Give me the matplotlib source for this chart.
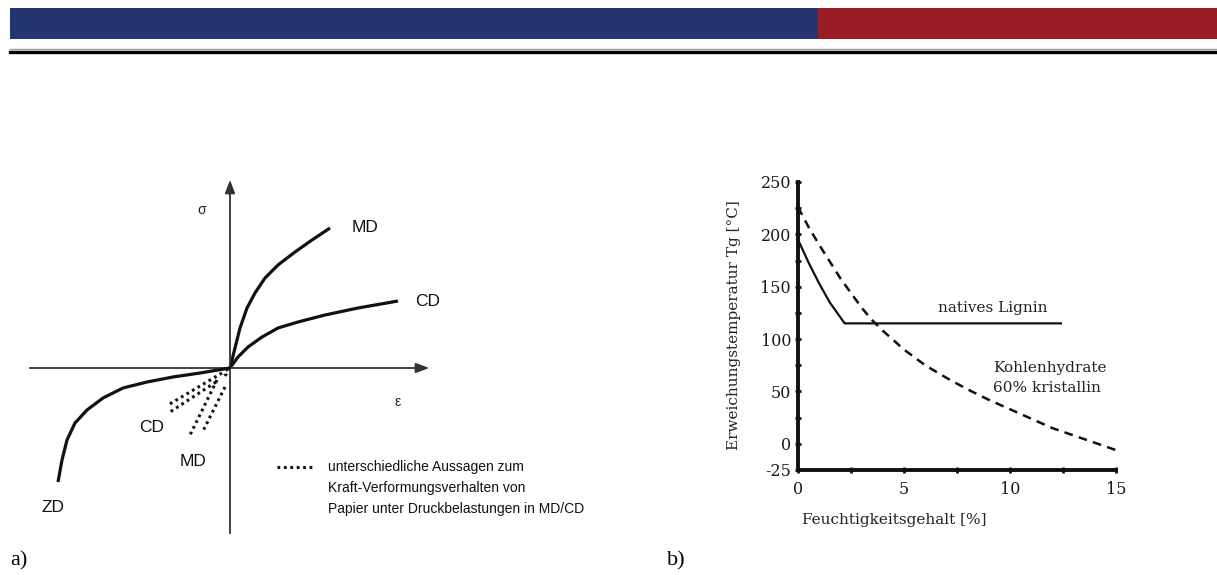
import matplotlib
matplotlib.use("Agg")
import matplotlib.pyplot as plt
from matplotlib.patches import Rectangle
from matplotlib.lines import Line2D

plt.rcParams["axes.unicode_minus"] = False

W, H = 1217, 575

# --- a) schematic stress/strain curves (arbitrary units, origin at 0,0) ---
md_x = [0, 5, 10, 17, 25, 35, 48, 65, 82, 100]
md_y = [0, 20, 40, 60, 75, 90, 103, 116, 128, 140]
cd_x = [0, 8, 18, 32, 48, 68, 95, 128, 168]
cd_y = [0, 11, 21, 31, 40, 46, 53, 60, 67]
zd_x = [0, -30, -57, -83, -107, -127, -143, -155, -163, -168, -172]
zd_y = [0, -5, -9, -14, -20, -30, -42, -55, -72, -92, -114]
# dotted compression lines (MD/CD)
dot_cd = [([-8, -62], [-5, -37]), ([-14, -60], [-14, -44])]
dot_md = [([-13, -40], [-12, -67]), ([-5, -27], [-19, -63])]
dot_curl = ([-2, -5, -5, -3, 0], [-1, -3, -6, -8, -9])

# --- b) softening temperature vs. moisture content ---
lignin_x = [0, 0.5, 1.0, 1.5, 2.2, 12.4]
lignin_y = [195, 173, 153, 135, 115, 115]
carb_x = [0, 0.5, 1, 1.5, 2, 2.5, 3, 3.5, 4, 5, 6, 7, 8, 9, 10, 11, 12, 13, 14, 15]
carb_y = [226, 207, 190, 174, 158, 144, 130, 118, 108, 90, 75, 63, 52, 42, 33, 24, 15, 8, 1, -6]
x_ticks = [0, 5, 10, 15]
y_ticks = [-25, 0, 50, 100, 150, 200, 250]


def fx(px):
    return px / W


def fy(py):
    return 1 - py / H


fig = plt.figure(figsize=(W / 100, H / 100), dpi=100)

# header band and rule
fig.add_artist(Rectangle((fx(10), fy(39)), fx(818) - fx(10), fy(8) - fy(39),
                         transform=fig.transFigure, color="#263571", lw=0))
fig.add_artist(Rectangle((fx(818), fy(39)), 1 - fx(818), fy(8) - fy(39),
                         transform=fig.transFigure, color="#9b1c26", lw=0))
fig.add_artist(Line2D([fx(10), 1], [fy(49), fy(49)], transform=fig.transFigure,
                      color="#999999", lw=1))
fig.add_artist(Line2D([fx(10), 1], [fy(51.5), fy(51.5)], transform=fig.transFigure,
                      color="black", lw=2.4))

# ---------------- panel a ----------------
ox, oy = 230, 368
x0, x1, y0, y1 = 20, 440, 170, 545
axa = fig.add_axes([fx(x0), fy(y1), fx(x1) - fx(x0), fy(y0) - fy(y1)])
axa.set_xlim(x0 - ox, x1 - ox)
axa.set_ylim(oy - y1, oy - y0)
axa.axis("off")

ax_col = "#333333"
axa.plot([-200, 0], [0, 0], color=ax_col, lw=1.3)
axa.plot([0, 0], [-165, 0], color=ax_col, lw=1.3)
axa.annotate("", xy=(0, 191), xytext=(0, -1),
             arrowprops=dict(arrowstyle="-|>,head_length=0.8,head_width=0.3",
                             color=ax_col, lw=1.3))
axa.annotate("", xy=(202, 0), xytext=(-1, 0),
             arrowprops=dict(arrowstyle="-|>,head_length=0.8,head_width=0.3",
                             color=ax_col, lw=1.3))

for xs, ys in [(md_x, md_y), (cd_x, cd_y), (zd_x, zd_y)]:
    axa.plot(xs, ys, color="#111111", lw=2.3, solid_capstyle="butt",
             solid_joinstyle="round")
for xs, ys in dot_cd + dot_md + [dot_curl]:
    axa.plot(xs, ys, color="#111111", lw=2.2, linestyle=(0, (0.9, 1.2)))

sans = "Liberation Sans"
axa.text(202 - ox, oy - 210, "σ", fontsize=10, family=sans, ha="center", va="center",
         color="#222222")
axa.text(398 - ox, oy - 402, "ε", fontsize=10, family=sans, ha="center", va="center",
         color="#222222")
lab = dict(fontsize=12.5, family=sans, ha="center", va="center", color="#111111")
axa.text(365 - ox, oy - 228, "MD", **lab)
axa.text(428 - ox, oy - 302, "CD", **lab)
axa.text(152 - ox, oy - 428, "CD", **lab)
axa.text(193 - ox, oy - 461, "MD", **lab)
axa.text(53 - ox, oy - 508, "ZD", **lab)

axa.plot([277 - ox, 313 - ox], [oy - 467, oy - 467], color="#111111", lw=2.2,
         linestyle=(0, (0.9, 1.2)))
leg_lines = ["unterschiedliche Aussagen zum",
             "Kraft-Verformungsverhalten von",
             "Papier unter Druckbelastungen in MD/CD"]
for i, s in enumerate(leg_lines):
    axa.text(328 - ox, oy - (467 + 21 * i), s, fontsize=10, family=sans,
             ha="left", va="center", color="#111111")

# ---------------- panel b ----------------
bx0, bx1, by0, by1 = 798, 1116, 182, 470
axb = fig.add_axes([fx(bx0), fy(by1), fx(bx1) - fx(bx0), fy(by0) - fy(by1)])
axb.set_xlim(0, 15)
axb.set_ylim(-25, 250)
for s in ["top", "right"]:
    axb.spines[s].set_visible(False)
for s in ["left", "bottom"]:
    axb.spines[s].set_linewidth(2.8)
    axb.spines[s].set_color("#111111")
axb.set_xticks(x_ticks)
axb.set_yticks(y_ticks)
axb.set_xticks([2.5, 7.5, 12.5], minor=True)
axb.set_yticks([25, 75, 125, 175, 225], minor=True)
serif = "DejaVu Serif"
axb.tick_params(which="both", direction="inout", length=4, width=2, color="#111111")
axb.tick_params(axis="x", pad=6, labelsize=11.5, labelcolor="#1a1a1a")
axb.tick_params(axis="y", pad=3, labelsize=11.5, labelcolor="#1a1a1a")
for t in axb.get_xticklabels() + axb.get_yticklabels():
    t.set_family(serif)
axb.set_facecolor("none")

axb.plot(lignin_x, lignin_y, color="#111111", lw=1.6)
axb.plot(carb_x, carb_y, color="#111111", lw=1.8, dashes=(3.5, 2.5))

txt = dict(fontsize=11, family=serif, color="#222222")
axb.text(9.2, 130, "natives Lignin", ha="center", va="center", **txt)
axb.text(9.2, 72, "Kohlenhydrate", ha="left", va="center", **txt)
axb.text(9.2, 53, "60% kristallin", ha="left", va="center", **txt)

fig.text(fx(734), fy(325), "Erweichungstemperatur Tg [°C]", rotation=90,
         ha="center", va="center", **txt)
fig.text(fx(802), fy(520), "Feuchtigkeitsgehalt [%]", ha="left", va="center", **txt)

fig.text(fx(10), fy(561), "a)", fontsize=16, family="Liberation Serif", ha="left",
         va="center")
fig.text(fx(667), fy(561), "b)", fontsize=16, family="Liberation Serif", ha="left",
         va="center")

fig.savefig("out.png", dpi=100)
